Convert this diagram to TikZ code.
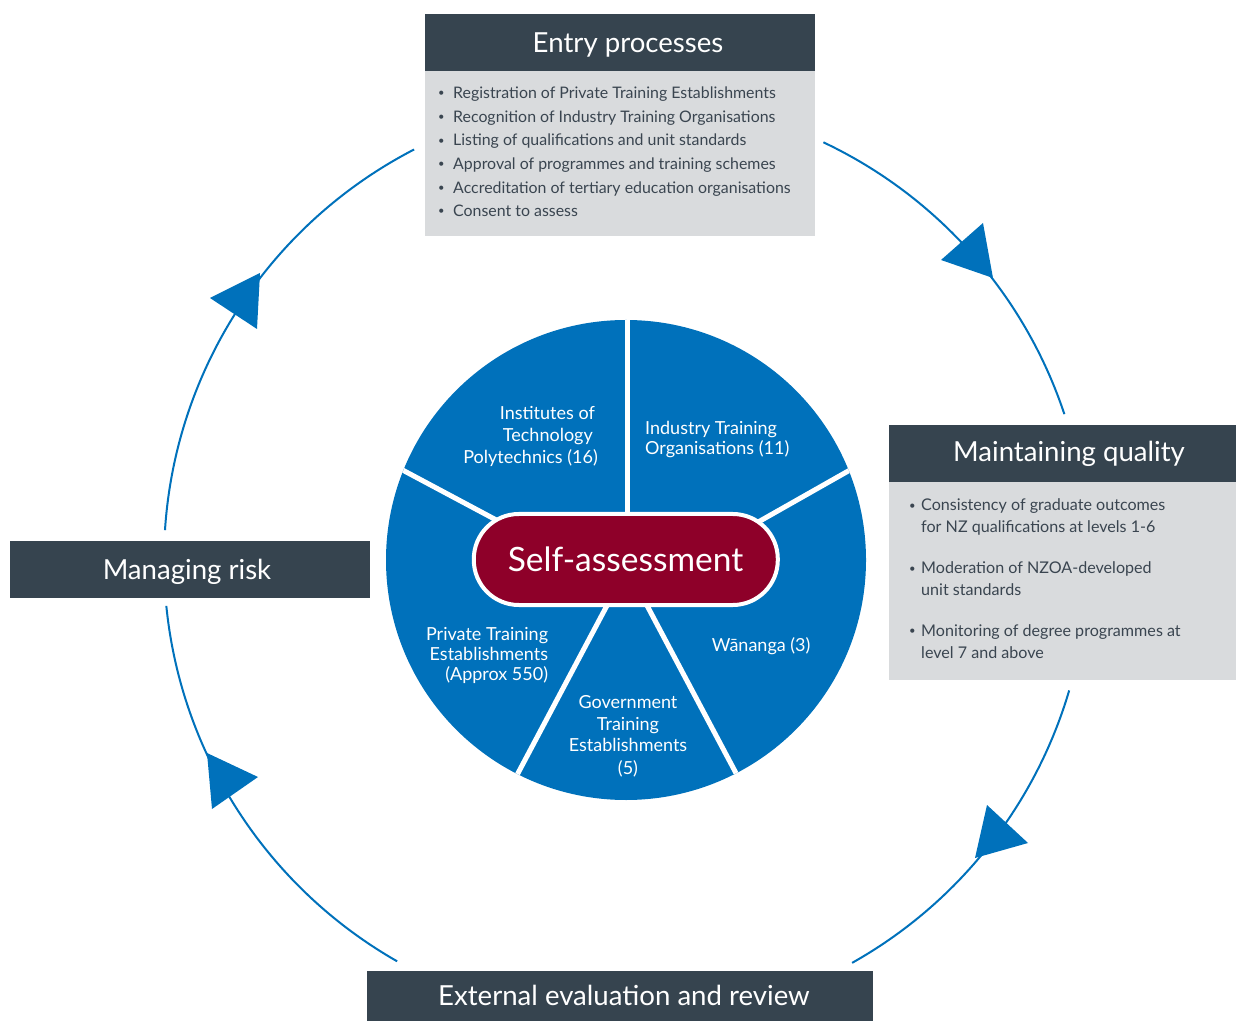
\documentclass[tikz,border=0pt]{standalone}
\usepackage{fontspec}
\usepackage{graphicx}
\setmainfont{Lato}
\usetikzlibrary{calc}
\definecolor{hdr}{HTML}{36444F}
\definecolor{bodyc}{HTML}{D9DBDD}
\definecolor{btxt}{HTML}{3A4550}
\definecolor{piec}{HTML}{0071BB}
\definecolor{selfc}{HTML}{8E0029}
\newcommand\bu[1]{\makebox[#1][l]{\raisebox{0.12em}{\scalebox{0.7}{•}}}}
\begin{document}
\begin{tikzpicture}[x=1pt,y=1pt,
  hdrbox/.style={fill=hdr, draw=none, anchor=north west, inner sep=0, minimum height=57pt},
  bodybox/.style={fill=bodyc, draw=none, anchor=north west, inner sep=0},
  hdrtxt/.style={text=white, anchor=base, inner sep=0, font=\fontsize{27.6}{30}\selectfont},
  bitem/.style={text=btxt, anchor=base west, inner sep=0, font=\fontsize{15.9}{18}\selectfont},
  mitem/.style={text=btxt, anchor=base west, inner sep=0, font=\fontsize{16.1}{19}\selectfont},
  pietxt/.style={text=white, inner sep=0, font=\fontsize{18}{22}\selectfont},
  cyc/.style={draw=piec, line width=2pt},
  tipc/.style={fill=piec, draw=none},
  spoke/.style={draw=white, line width=5pt},
]
\useasboundingbox (0,0) rectangle (1236,1021);

% ---------- Entry processes ----------
\node[hdrbox, minimum width=390pt] (entryH) at (425,1007) {};
\node[hdrtxt] (entryT) at (628,968.8) {Entry processes};
\node[bodybox, minimum width=390pt, minimum height=165pt] (entryB) at (425,950) {};
\node[bitem] (e1) at (438,922.7) {\bu{15pt}Registration of Private Training Establishments};
\node[bitem] (e2) at (438,898.7) {\bu{15pt}Recognition of Industry Training Organisations};
\node[bitem] (e3) at (438,875.0) {\bu{15pt}Listing of qualifications and unit standards};
\node[bitem] (e4) at (438,851.5) {\bu{15pt}Approval of programmes and training schemes};
\node[bitem] (e5) at (438,827.7) {\bu{15pt}Accreditation of tertiary education organisations};
\node[bitem] (e6) at (438,804.3) {\bu{15pt}Consent to assess};

% ---------- Maintaining quality ----------
\node[hdrbox, minimum width=347pt] (mainH) at (889,596) {};
\node[hdrtxt] (mainT) at (1069,559.5) {Maintaining quality};
\node[bodybox, minimum width=347pt, minimum height=198pt] (mainB) at (889,539) {};
\node[mitem] (m1) at (909,510) {\bu{12pt}Consistency of graduate outcomes};
\node[mitem] (m1b) at (921,488) {for NZ qualifications at levels 1-6};
\node[mitem] (m2) at (909,447) {\bu{12pt}Moderation of NZOA-developed};
\node[mitem] (m2b) at (921,425) {unit standards};
\node[mitem] (m3) at (909,385) {\bu{12pt}Monitoring of degree programmes at};
\node[mitem] (m3b) at (921,363) {level 7 and above};

% ---------- Managing risk ----------
\node[hdrbox, minimum width=360pt] (riskH) at (10,480) {};
\node[hdrtxt] (riskT) at (187,442) {Managing risk};

% ---------- External evaluation ----------
\node[hdrbox, minimum width=506pt, minimum height=50pt] (extH) at (367,50) {};
\node[hdrtxt] (extT) at (624,15.5) {External evaluation and review};

% ---------- Pie ----------
\coordinate (C) at (626,461);
\fill[piec] (C) circle (240);
\begin{scope}
  \clip (C) circle (240);
  \draw[spoke] (627,461) -- (627,710);
  \draw[spoke] (700,466) -- (880,568);
  \draw[spoke] (560,467) -- (380,563);
  \draw[spoke] (620,440) -- (492.6,200);
  \draw[spoke] (634,440) -- (761.4,200);
\end{scope}
\node[draw=white, line width=4pt, fill=selfc, rounded corners=45pt, minimum width=304pt, minimum height=91pt, inner sep=0] (self) at (625.8,461.5) {};
\node[text=white, anchor=base, inner sep=0, font=\fontsize{33.5}{38}\selectfont] (selfT) at (625.5,449.5) {Self-assessment};

\node[pietxt, anchor=base east] (it1) at (595,601) {Institutes of};
\node[pietxt, anchor=base east] (it2) at (593,579.3) {Technology};
\node[pietxt, anchor=base east] (it3) at (598,557) {Polytechnics (16)};
\node[pietxt, anchor=base west] (ito1) at (645,586) {Industry Training};
\node[pietxt, anchor=base west] (ito2) at (645,566) {Organisations (11)};
\node[pietxt, anchor=base west] (wan) at (711.7,369.3) {Wānanga (3)};
\node[pietxt, anchor=base] (gt1) at (628,312.7) {Government};
\node[pietxt, anchor=base] (gt2) at (628,290.3) {Training};
\node[pietxt, anchor=base] (gt3) at (628,269.3) {Establishments};
\node[pietxt, anchor=base] (gt4) at (628,247) {(5)};
\node[pietxt, anchor=base east] (pt1) at (548.3,381) {Private Training};
\node[pietxt, anchor=base east] (pt2) at (548.3,361) {Establishments};
\node[pietxt, anchor=base east] (pt3) at (548.3,340.3) {(Approx 550)};

% ---------- Cycle arcs ----------
\coordinate (a1s) at ($(C)+(64.7:462)$);
\coordinate (a2s) at ($(C)+(-16.4:462)$);
\coordinate (a3s) at ($(C)+(240.3:462)$);
\coordinate (a4s) at ($(C)+(176.3:462)$);
\draw[cyc] (a1s) arc[start angle=64.7, end angle=18.4, radius=462];
\draw[cyc] (a2s) arc[start angle=-16.4, end angle=-60.7, radius=462];
\draw[cyc] (a3s) arc[start angle=240.3, end angle=185.7, radius=462];
\draw[cyc] (a4s) arc[start angle=176.3, end angle=117.3, radius=462];

\fill[tipc] (941,761) -- (983,798) -- (993,743) -- cycle;
\fill[tipc] (987,216) -- (1028,178) -- (975,163) -- cycle;
\fill[tipc] (207,268) -- (258,244) -- (212,212) -- cycle;
\fill[tipc] (260,748) -- (210,723) -- (257,692) -- cycle;
\end{tikzpicture}
\end{document}
